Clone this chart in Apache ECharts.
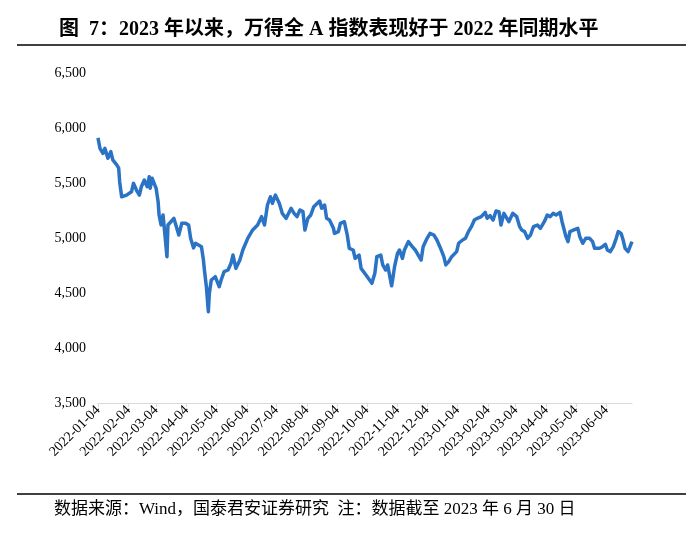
<!DOCTYPE html>
<html>
<head>
<meta charset="utf-8">
<script src="https://cdn.jsdelivr.net/npm/echarts@6/dist/echarts.min.js"></script>
<style>
  html, body { margin: 0; padding: 0; background: #fff; }
  #chart { width: 700px; height: 537px; }
</style>
</head>
<body>
<div id="chart"></div>
<script>
// 万得全A 指数，数据读自原图
const dates = [
  '2022-01-04','2022-01-06','2022-01-09','2022-01-11','2022-01-14','2022-01-17','2022-01-19','2022-01-23',
  '2022-01-25','2022-01-26','2022-01-28','2022-02-02','2022-02-07','2022-02-09','2022-02-12','2022-02-15',
  '2022-02-17','2022-02-20','2022-02-23','2022-02-25','2022-02-26','2022-02-28','2022-03-04','2022-03-06',
  '2022-03-07','2022-03-09','2022-03-11','2022-03-12','2022-03-15','2022-03-16','2022-03-19','2022-03-22',
  '2022-03-25','2022-03-27','2022-03-30','2022-04-03','2022-04-06','2022-04-08','2022-04-11','2022-04-13',
  '2022-04-15','2022-04-19','2022-04-21','2022-04-22','2022-04-24','2022-04-26','2022-04-27','2022-04-29',
  '2022-05-03','2022-05-04','2022-05-07','2022-05-09','2022-05-12','2022-05-16','2022-05-19','2022-05-21',
  '2022-05-24','2022-05-28','2022-05-31','2022-06-05','2022-06-10','2022-06-15','2022-06-19','2022-06-22',
  '2022-06-25','2022-06-28','2022-06-30','2022-07-03','2022-07-07','2022-07-10','2022-07-14','2022-07-19',
  '2022-07-22','2022-07-25','2022-07-28','2022-07-31','2022-08-02','2022-08-05','2022-08-08','2022-08-11',
  '2022-08-13','2022-08-17','2022-08-19','2022-08-22','2022-08-24','2022-08-27','2022-08-31','2022-09-01',
  '2022-09-05','2022-09-07','2022-09-11','2022-09-14','2022-09-16','2022-09-20','2022-09-22','2022-09-26',
  '2022-09-28','2022-10-03','2022-10-09','2022-10-12','2022-10-14','2022-10-18','2022-10-20','2022-10-23',
  '2022-10-25','2022-10-29','2022-10-30','2022-11-01','2022-11-04','2022-11-06','2022-11-09','2022-11-11',
  '2022-11-13','2022-11-15','2022-11-19','2022-11-22','2022-11-25','2022-11-28','2022-11-30','2022-12-04',
  '2022-12-07','2022-12-11','2022-12-14','2022-12-17','2022-12-21','2022-12-23','2022-12-26','2022-12-29',
  '2022-12-31','2023-01-03','2023-01-05','2023-01-09','2023-01-12','2023-01-15','2023-01-18','2023-01-21',
  '2023-01-24','2023-01-28','2023-02-01','2023-02-03','2023-02-06','2023-02-09','2023-02-12','2023-02-15',
  '2023-02-17','2023-02-20','2023-02-22','2023-02-25','2023-03-01','2023-03-05','2023-03-08','2023-03-10',
  '2023-03-13','2023-03-16','2023-03-19','2023-03-22','2023-03-26','2023-03-29','2023-04-02','2023-04-05',
  '2023-04-08','2023-04-11','2023-04-14','2023-04-18','2023-04-20','2023-04-24','2023-04-26','2023-04-28',
  '2023-05-02','2023-05-06','2023-05-08','2023-05-11','2023-05-14','2023-05-18','2023-05-21','2023-05-23',
  '2023-05-28','2023-05-31','2023-06-03','2023-06-05','2023-06-08','2023-06-11','2023-06-14','2023-06-16',
  '2023-06-19','2023-06-21','2023-06-23','2023-06-26','2023-06-28','2023-06-30'
];
const values = [
  5910, 5815, 5770, 5815, 5725, 5785, 5710, 5665,
  5635, 5510, 5375, 5390, 5420, 5497, 5436, 5390,
  5466, 5527, 5466, 5557, 5452, 5543, 5452, 5330,
  5209, 5118, 5209, 5118, 4830, 5118, 5148, 5179,
  5088, 5027, 5133, 5133, 5118, 4997, 4910, 4952,
  4937, 4921, 4800, 4709, 4557, 4330, 4497, 4618,
  4648, 4633, 4557, 4618, 4694, 4709, 4770, 4845,
  4724, 4800, 4891, 4997, 5073, 5118, 5194, 5118,
  5300, 5375, 5315, 5390, 5315, 5224, 5179, 5270,
  5224, 5194, 5255, 5240, 5073, 5179, 5209, 5285,
  5270, 5336, 5270, 5300, 5179, 5164, 5088, 5042,
  5058, 5133, 5148, 5027, 4906, 4891, 4815, 4845,
  4724, 4664, 4588, 4679, 4830, 4845, 4755, 4709,
  4755, 4565, 4618, 4739, 4861, 4891, 4815, 4891,
  4876, 4967, 4921, 4891, 4845, 4800, 4921, 4997,
  5042, 5027, 4982, 4921, 4830, 4755, 4785, 4830,
  4815, 4876, 4952, 4982, 4997, 5058, 5103, 5164,
  5179, 5194, 5233, 5179, 5203, 5164, 5245, 5240,
  5118, 5224, 5209, 5148, 5224, 5194, 5103, 5073,
  5058, 4997, 5027, 5103, 5118, 5088, 5148, 5209,
  5194, 5224, 5209, 5233, 5148, 5012, 4967, 5058,
  5073, 5088, 5012, 4952, 4997, 4997, 4967, 4906,
  4906, 4921, 4943, 4891, 4876, 4921, 4997, 5058,
  5042, 4982, 4906, 4876, 4921, 4967
];
// x 轴刻度标签（每月 4 日）
const tickDates = [
  '2022-01-04','2022-02-04','2022-03-04','2022-04-04','2022-05-04','2022-06-04',
  '2022-07-04','2022-08-04','2022-09-04','2022-10-04','2022-11-04','2022-12-04',
  '2023-01-04','2023-02-04','2023-03-04','2023-04-04','2023-05-04','2023-06-04'
];
const startDate = '2022-01-04'
const endDate = '2023-06-30'

const DAY = 86400000
const base = Date.parse(startDate)
// 日期 -> 距起始日的天数（日历日坐标轴）
const dayOf = (s) => Math.round((Date.parse(s) - base) / DAY)
const tickValues = tickDates.map(dayOf)
const serif = '"Liberation Serif", "Noto Sans CJK SC", serif'

const chart = echarts.init(document.getElementById('chart'))
const option = {
  animation: false,
  title: {
    text: '图  7：2023 年以来，万得全 A 指数表现好于 2022 年同期水平',
    left: 54,
    top: 15,
    textStyle: { fontFamily: serif, fontSize: 20, fontWeight: 'bold', color: '#000' }
  },
  grid: { left: 98, right: 68, top: 73, bottom: 134 },
  xAxis: {
    type: 'value',
    min: 0,
    max: dayOf(endDate),
    splitLine: { show: false },
    axisLine: { lineStyle: { color: '#d9d9d9', width: 1 } },
    axisTick: {
      show: true,
      customValues: tickValues,
      length: 4,
      lineStyle: { color: '#d9d9d9' }
    },
    axisLabel: {
      customValues: tickValues,
      rotate: 45,
      margin: 5,
      fontFamily: serif,
      fontSize: 14,
      color: '#000',
      formatter: (v) => new Date(base + v * DAY).toISOString().slice(0, 10)
    }
  },
  yAxis: {
    type: 'value',
    min: 3500,
    max: 6500,
    interval: 500,
    splitLine: { show: false },
    axisLine: { show: false },
    axisTick: { show: false },
    axisLabel: {
      margin: 12,
      fontFamily: serif,
      fontSize: 14,
      color: '#000',
      formatter: (v) => v.toLocaleString('en-US')
    }
  },
  series: [
    {
      name: '万得全A',
      type: 'line',
      data: dates.map((d, i) => [dayOf(d), values[i]]),
      showSymbol: false,
      lineStyle: { color: '#2B73C5', width: 3.5, join: 'round' },
      itemStyle: { color: '#2B73C5' }
    }
  ],
  graphic: [
    { type: 'line', shape: { x1: 17, y1: 45, x2: 686, y2: 45 }, style: { stroke: '#000', lineWidth: 1.5 } },
    { type: 'line', shape: { x1: 17, y1: 494, x2: 686, y2: 494 }, style: { stroke: '#000', lineWidth: 1.5 } },
    {
      type: 'text',
      left: 54,
      top: 501,
      style: {
        text: '数据来源：Wind，国泰君安证券研究  注：数据截至 2023 年 6 月 30 日',
        font: '17px ' + serif,
        fill: '#000'
      }
    }
  ]
}
chart.setOption(option)
</script>
</body>
</html>
